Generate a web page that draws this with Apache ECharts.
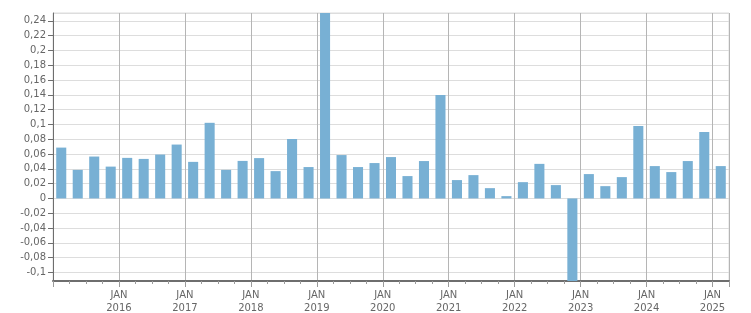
<!DOCTYPE html>
<html><head><meta charset="utf-8">
<script src="https://cdn.jsdelivr.net/npm/echarts@6/dist/echarts.min.js"></script>
<style>html,body{margin:0;padding:0;background:#fff}#c{width:751px;height:313px}</style>
</head><body><div id="c"></div>
<script>
const quarters = [
 '2015-Q1','2015-Q2','2015-Q3','2015-Q4',
 '2016-Q1','2016-Q2','2016-Q3','2016-Q4',
 '2017-Q1','2017-Q2','2017-Q3','2017-Q4',
 '2018-Q1','2018-Q2','2018-Q3','2018-Q4',
 '2019-Q1','2019-Q2','2019-Q3','2019-Q4',
 '2020-Q1','2020-Q2','2020-Q3','2020-Q4',
 '2021-Q1','2021-Q2','2021-Q3','2021-Q4',
 '2022-Q1','2022-Q2','2022-Q3','2022-Q4',
 '2023-Q1','2023-Q2','2023-Q3','2023-Q4',
 '2024-Q1','2024-Q2','2024-Q3','2024-Q4',
 '2025-Q1'
];
const values = [
 0.0687, 0.0386, 0.0566, 0.0430,
 0.0548, 0.0534, 0.0593, 0.0728,
 0.0494, 0.1022, 0.0386, 0.0507,
 0.0545, 0.0369, 0.0803, 0.0424,
 0.2506, 0.0586, 0.0424, 0.0478,
 0.0559, 0.0302, 0.0505, 0.1398,
 0.0248, 0.0315, 0.0139, 0.0031,
 0.0220, 0.0467, 0.0180, -0.1116,
 0.0329, 0.0166, 0.0288, 0.0979,
 0.0437, 0.0356, 0.0505, 0.0898,
 0.0437
];
const yearTickLabels = ['JAN\n2016','JAN\n2017','JAN\n2018','JAN\n2019','JAN\n2020','JAN\n2021','JAN\n2022','JAN\n2023','JAN\n2024','JAN\n2025'];
const quartersPerYear = 4;

const chart = echarts.init(document.getElementById('c'), null, {renderer: 'canvas'});
const font = 'DejaVu Sans';
chart.setOption({
  animation: false,
  grid: {left: 53, right: 22, top: 13, bottom: 32, show: true, borderColor: '#dddddd', borderWidth: 1, containLabel: false, outerBoundsMode: 'none'},
  xAxis: [
    {
      type: 'category', data: quarters, boundaryGap: true,
      axisLine: {show: false}, axisTick: {show: false}, axisLabel: {show: false}, splitLine: {show: false}
    },
    {
      type: 'value', min: 0, max: quarters.length, interval: quartersPerYear,
      position: 'bottom',
      axisLine: {show: true, lineStyle: {color: '#6e6e6e', width: 2}},
      axisTick: {show: true, length: 6, lineStyle: {color: '#9a9a9a'}},
      minorTick: {show: true, splitNumber: quartersPerYear, length: 3, lineStyle: {color: '#9a9a9a'}},
      splitLine: {show: true, lineStyle: {color: '#b5b5b5', width: 1}},
      axisLabel: {
        show: true, showMinLabel: false, showMaxLabel: false,
        fontFamily: font, fontSize: 10, color: '#666', lineHeight: 13, margin: 8,
        formatter: function (v) {
          const i = Math.round(v / quartersPerYear) - 1;
          return (i >= 0 && i < yearTickLabels.length && v % quartersPerYear === 0) ? yearTickLabels[i] : '';
        }
      }
    }
  ],
  yAxis: {
    type: 'value', min: 'dataMin', max: 'dataMax', splitNumber: 18,
    axisLine: {show: true, lineStyle: {color: '#6e6e6e', width: 1}},
    axisTick: {show: true, length: 5, lineStyle: {color: '#6e6e6e'}},
    splitLine: {show: true, lineStyle: {color: '#dddddd', width: 1}},
    axisLabel: {
      showMinLabel: false, showMaxLabel: false,
      fontFamily: font, fontSize: 10, color: '#666', margin: 7,
      formatter: function (v) {
        const n = Number(v.toFixed(2));
        if (n === 0) return '0';
        return String(n).replace('.', ',');
      }
    }
  },
  series: [{
    type: 'bar', xAxisIndex: 0, data: values,
    barCategoryGap: '39%',
    itemStyle: {color: '#78b0d4'}
  }]
});
</script></body></html>
